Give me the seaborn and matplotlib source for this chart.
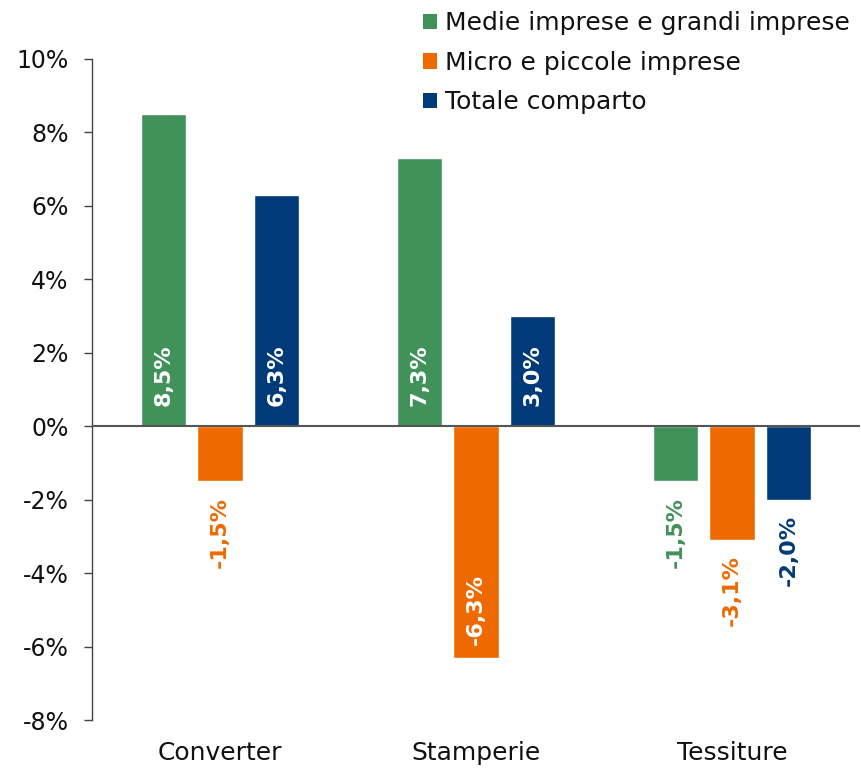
import matplotlib
matplotlib.use("Agg")
import matplotlib.pyplot as plt
import seaborn as sns
import pandas as pd
from matplotlib.patches import Patch

categories = ["Converter", "Stamperie", "Tessiture"]
series = ["Medie imprese e grandi imprese", "Micro e piccole imprese", "Totale comparto"]
medie = [8.5, 7.3, -1.5]
micro = [-1.5, -6.3, -3.1]
totale = [6.3, 3.0, -2.0]
yticks = [-8, -6, -4, -2, 0, 2, 4, 6, 8, 10]
colors = ["#41915A", "#EE6A00", "#003A78"]

rows = []
for s, vals in zip(series, [medie, micro, totale]):
    for c, v in zip(categories, vals):
        rows.append({"cat": c, "serie": s, "val": v})
df = pd.DataFrame(rows)

sns.set_style("white")
plt.rcParams["font.family"] = ["DejaVu Sans"]

fig = plt.figure(figsize=(8.61, 7.69), dpi=100)
ax = fig.add_axes([92/861, 49/769, 768/861, 661/769])

sns.barplot(data=df, x="cat", y="val", hue="serie", order=categories,
            hue_order=series, palette=colors, width=0.66, gap=0.2,
            saturation=1, ax=ax, legend=False, errorbar=None)

ax.set_xlim(-0.5, 2.5)
ax.set_ylim(-8, 10)
ax.set_yticks(yticks)
ax.set_yticklabels([f"{t}%" for t in yticks], fontsize=17, color="#111111")
ax.tick_params(axis="y", direction="out", length=6, width=1, color="#444444", pad=11, left=True)
ax.tick_params(axis="x", length=0, pad=15, labelsize=18, labelcolor="#111111")
ax.set_xlabel("")
ax.set_ylabel("")
for sp in ["top", "right", "bottom"]:
    ax.spines[sp].set_visible(False)
ax.spines["left"].set_color("#444444")
ax.spines["left"].set_linewidth(1)
ax.axhline(0, color="#555555", linewidth=1.5, zorder=3)

# data labels
for container, col in zip(ax.containers, colors):
    for bar in container:
        v = bar.get_height()
        x = bar.get_x() + bar.get_width() / 2
        txt = f"{v:.1f}%".replace(".", ",")
        if v > 0:
            ax.text(x, 0.55, txt, rotation=90, ha="center", va="bottom",
                    color="white", fontsize=16, fontweight="bold", zorder=4)
        elif v < -5:
            ax.text(x, v + 0.35, txt, rotation=90, ha="center", va="bottom",
                    color="white", fontsize=16, fontweight="bold", zorder=4)
        else:
            ax.text(x, v - 0.42, txt, rotation=90, ha="center", va="top",
                    color=col, fontsize=16, fontweight="bold", zorder=4)

handles = [Patch(facecolor=c, edgecolor="none") for c in colors]
leg = fig.legend(handles, series, loc="upper right", bbox_to_anchor=(1.0, 1.0),
                 frameon=False, fontsize=18, handlelength=0.56, handleheight=0.56,
                 handletextpad=0.3, labelspacing=0.62, borderaxespad=0.05)
for t in leg.get_texts():
    t.set_color("#111111")

fig.savefig("out.png", dpi=100)
